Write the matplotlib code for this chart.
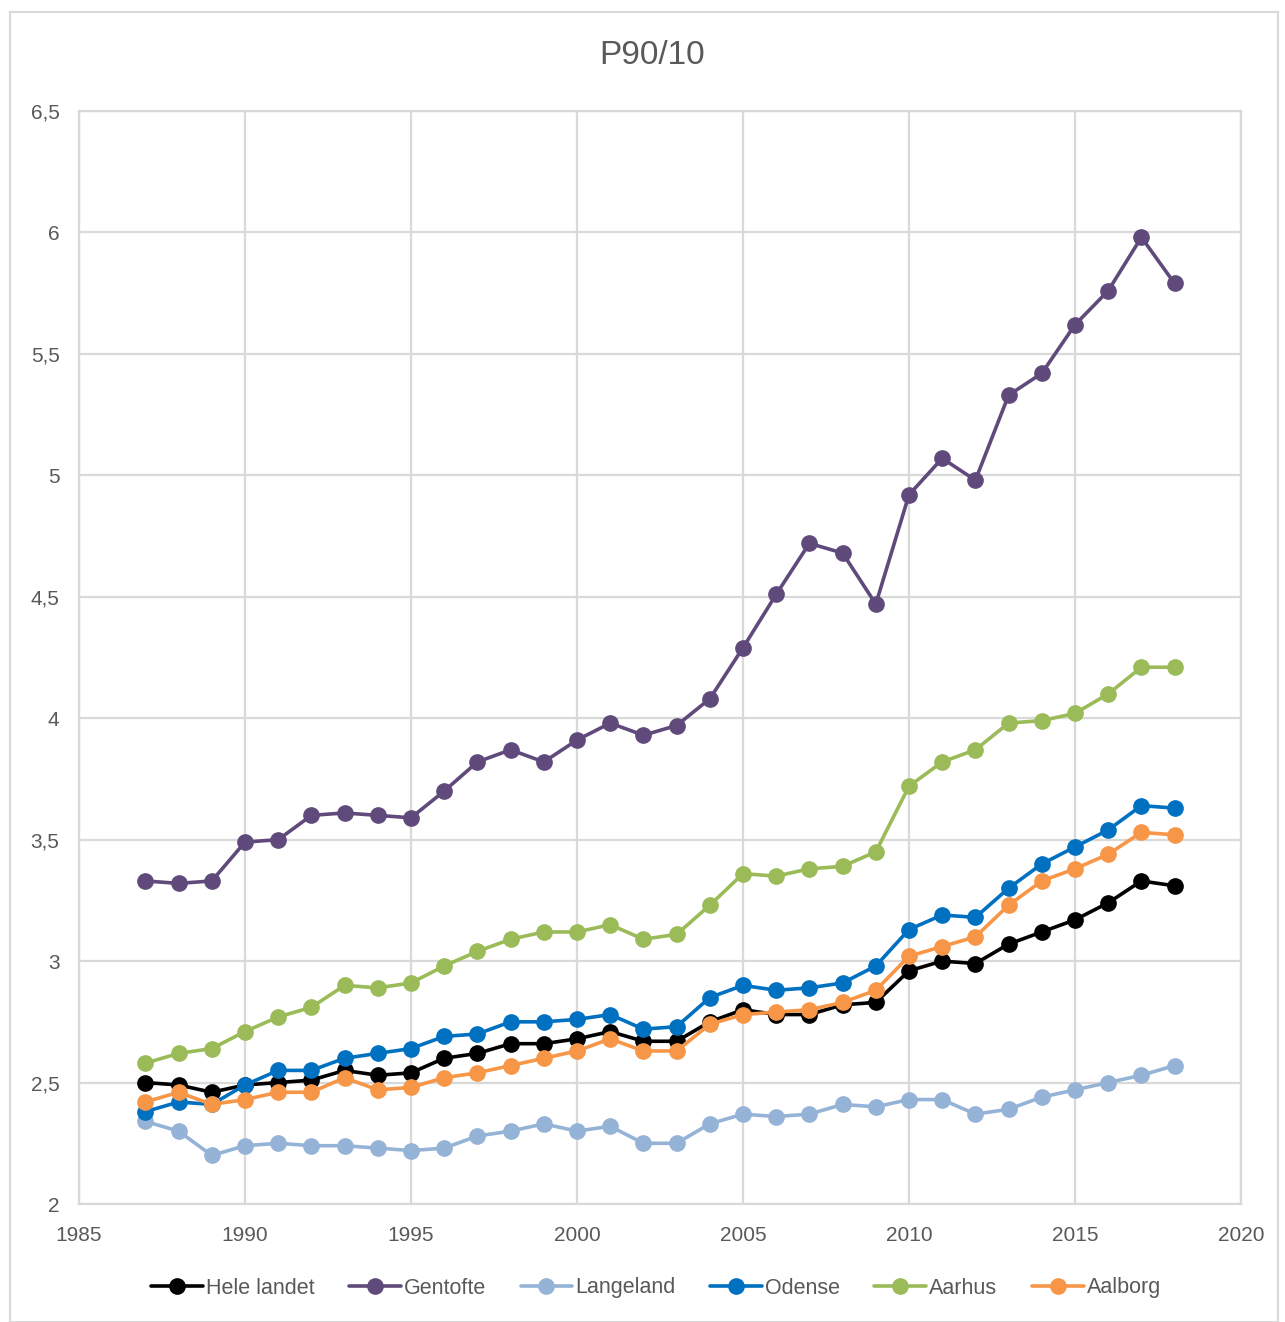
import matplotlib
matplotlib.use("Agg")
import matplotlib.pyplot as plt
from matplotlib.patches import Rectangle
from matplotlib.ticker import FuncFormatter, MultipleLocator

years = list(range(1987, 2019))

hele_landet = [2.50, 2.49, 2.46, 2.49, 2.50, 2.51, 2.55, 2.53, 2.54, 2.60, 2.62, 2.66, 2.66, 2.68, 2.71, 2.67,
               2.67, 2.75, 2.80, 2.78, 2.78, 2.82, 2.83, 2.96, 3.00, 2.99, 3.07, 3.12, 3.17, 3.24, 3.33, 3.31]
gentofte = [3.33, 3.32, 3.33, 3.49, 3.50, 3.60, 3.61, 3.60, 3.59, 3.70, 3.82, 3.87, 3.82, 3.91, 3.98, 3.93,
            3.97, 4.08, 4.29, 4.51, 4.72, 4.68, 4.47, 4.92, 5.07, 4.98, 5.33, 5.42, 5.62, 5.76, 5.98, 5.79]
langeland = [2.34, 2.30, 2.20, 2.24, 2.25, 2.24, 2.24, 2.23, 2.22, 2.23, 2.28, 2.30, 2.33, 2.30, 2.32, 2.25,
             2.25, 2.33, 2.37, 2.36, 2.37, 2.41, 2.40, 2.43, 2.43, 2.37, 2.39, 2.44, 2.47, 2.50, 2.53, 2.57]
odense = [2.38, 2.42, 2.41, 2.49, 2.55, 2.55, 2.60, 2.62, 2.64, 2.69, 2.70, 2.75, 2.75, 2.76, 2.78, 2.72,
          2.73, 2.85, 2.90, 2.88, 2.89, 2.91, 2.98, 3.13, 3.19, 3.18, 3.30, 3.40, 3.47, 3.54, 3.64, 3.63]
aarhus = [2.58, 2.62, 2.64, 2.71, 2.77, 2.81, 2.90, 2.89, 2.91, 2.98, 3.04, 3.09, 3.12, 3.12, 3.15, 3.09,
          3.11, 3.23, 3.36, 3.35, 3.38, 3.39, 3.45, 3.72, 3.82, 3.87, 3.98, 3.99, 4.02, 4.10, 4.21, 4.21]
aalborg = [2.42, 2.46, 2.41, 2.43, 2.46, 2.46, 2.52, 2.47, 2.48, 2.52, 2.54, 2.57, 2.60, 2.63, 2.68, 2.63,
           2.63, 2.74, 2.78, 2.79, 2.80, 2.83, 2.88, 3.02, 3.06, 3.10, 3.23, 3.33, 3.38, 3.44, 3.53, 3.52]

series = [
    ("Hele landet", hele_landet, "#000000"),
    ("Gentofte", gentofte, "#604a7b"),
    ("Langeland", langeland, "#95b3d7"),
    ("Odense", odense, "#0070c0"),
    ("Aarhus", aarhus, "#9bbb59"),
    ("Aalborg", aalborg, "#f79646"),
]

text_color = "#595959"
grid_color = "#d9d9d9"
plt.rcParams["font.family"] = ["Liberation Sans", "DejaVu Sans"]

fig = plt.figure(figsize=(12.85, 13.22), dpi=100)
ax = fig.add_axes([79 / 1285, 1 - 1204 / 1322, (1241 - 79) / 1285, (1204 - 111) / 1322])

# outer chart frame
fig.patches.append(Rectangle((10 / 1285, 0), 1268 / 1285, 1 - 12 / 1322, transform=fig.transFigure,
                             fill=False, edgecolor=grid_color, linewidth=1.5))

for i, (name, values, color) in enumerate(series):
    ax.plot(years, values, color=color, linewidth=2.6, marker="o", markersize=11,
            label=name, zorder=3 + i, solid_capstyle="round")

ax.set_xlim(1985, 2020)
ax.set_ylim(2, 6.5)
ax.xaxis.set_major_locator(MultipleLocator(5))
ax.yaxis.set_major_locator(MultipleLocator(0.5))
ax.yaxis.set_major_formatter(FuncFormatter(lambda v, _: f"{v:g}".replace(".", ",")))
ax.grid(True, color=grid_color, linewidth=1.6, zorder=0)
ax.set_axisbelow(True)
for spine in ax.spines.values():
    spine.set_color(grid_color)
    spine.set_linewidth(1.6)
ax.tick_params(axis="x", length=0, labelsize=15, labelcolor=text_color, pad=16)
ax.tick_params(axis="y", length=0, labelsize=15, labelcolor=text_color, pad=14)

fig.text(652 / 1285, 1 - 55 / 1322, "P90/10", ha="center", va="center", fontsize=24, color=text_color)

fig.legend(loc="center", bbox_to_anchor=(656 / 1285, 1 - 1288 / 1322), ncol=6, frameon=False,
           fontsize=15.5, labelcolor=text_color, handlelength=2.4, handletextpad=0.15, columnspacing=1.6)

fig.savefig("out.png", dpi=100)
